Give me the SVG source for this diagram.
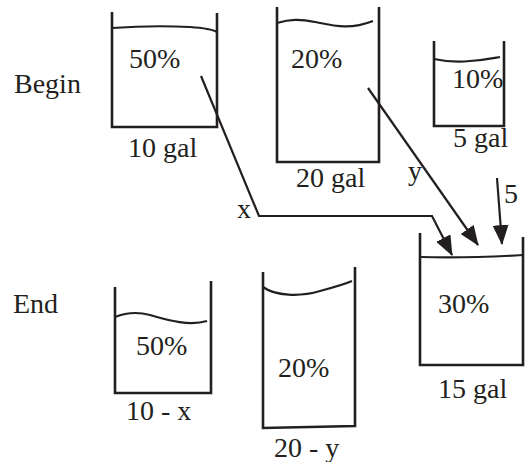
<svg xmlns="http://www.w3.org/2000/svg" width="525" height="462" viewBox="0 0 525 462">
<defs>
<style>
.b{fill:none;stroke:#231f20;stroke-width:2.6}
.l{fill:none;stroke:#231f20;stroke-width:2.2}
.c{fill:none;stroke:#231f20;stroke-width:2.2}
.t{font-family:"Liberation Serif",serif;font-size:28px;fill:#231f20}
</style>
<marker id="ah" markerUnits="userSpaceOnUse" markerWidth="20" markerHeight="16" viewBox="0 0 20 16" refX="19" refY="8" orient="auto">
<path d="M0,0 L20,8 L0,16 Z" fill="#231f20"/>
</marker>
</defs>
<rect width="525" height="462" fill="#fff"/>
<text class="t" x="14" y="93">Begin</text>
<text class="t" x="13" y="313">End</text>
<g id="beaker-10gal">
<path class="b" d="M112,12 V127 H217 V13"/>
<path class="l" d="M112,28 C140,26 170,26 190,27 C205,28 212,29 217,32"/>
<text class="t" x="129" y="68">50%</text>
<text class="t" x="128" y="157">10 gal</text>
</g>
<g id="beaker-20gal">
<path class="b" d="M277,7 V162 H379 V7"/>
<path class="l" d="M277,23 C290,19 300,19 315,22 C335,26 350,30 373,21"/>
<text class="t" x="291" y="68">20%</text>
<text class="t" x="296" y="187">20 gal</text>
</g>
<g id="beaker-5gal">
<path class="b" d="M434,41 V126 H504 V41"/>
<path class="l" d="M434,59 C448,62 460,62 470,61 C485,60 494,58 500,57"/>
<text class="t" x="452" y="88">10%</text>
<text class="t" x="453" y="147">5 gal</text>
</g>
<g id="beaker-15gal">
<path class="b" d="M420,233 V365 H523 V237"/>
<path class="l" d="M420,257 C450,258 490,257 523,255"/>
<text class="t" x="438" y="313">30%</text>
<text class="t" x="438" y="398">15 gal</text>
</g>
<g id="beaker-10-x">
<path class="b" d="M115,287 V393 H211 V281"/>
<path class="l" d="M115,317 C125,313 135,311 150,315 C170,321 190,326 207,321"/>
<text class="t" x="136" y="355">50%</text>
<text class="t" x="126" y="420">10 - x</text>
</g>
<g id="beaker-20-y">
<path class="b" d="M263,272 V428 L355,426 V267"/>
<path class="l" d="M263,287 C275,296 300,297 320,291 C335,287 345,284 352,281"/>
<text class="t" x="278" y="377">20%</text>
<text class="t" x="274" y="457">20 - y</text>
</g>
<g id="connectors">
<path class="c" d="M201,76 L259,216 L432,216 L452,255" marker-end="url(#ah)"/>
<path class="c" d="M368,88 L478,245" marker-end="url(#ah)"/>
<path class="c" d="M497,178 L502,244" marker-end="url(#ah)"/>
<text class="t" x="237" y="218">x</text>
<text class="t" x="408" y="180">y</text>
<text class="t" x="504" y="203">5</text>
</g>
</svg>
